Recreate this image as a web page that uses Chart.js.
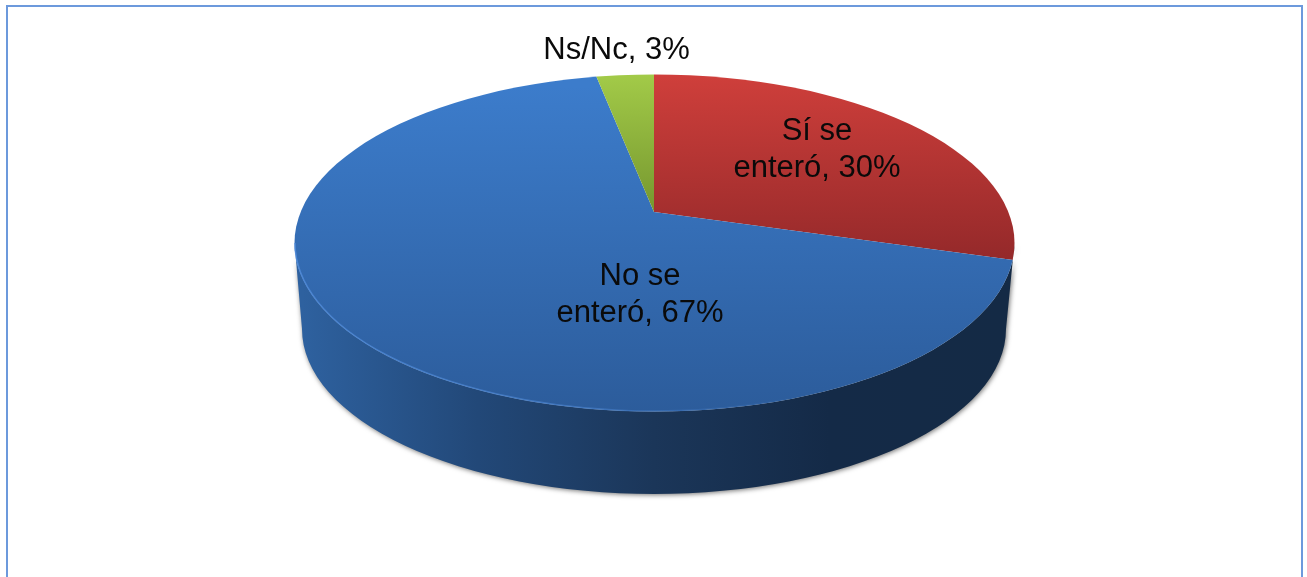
<!DOCTYPE html>
<html>
<head>
<meta charset="utf-8">
<script src="https://cdn.jsdelivr.net/npm/chart.js@4"></script>
<style>
  html, body { margin: 0; padding: 0; background: #fff; overflow: hidden; }
  #wrap { position: relative; width: 1307px; height: 577px; overflow: hidden; }
  #frame { position: absolute; left: 6px; top: 5px; width: 1297px; height: 600px; border: 2px solid #6c99dc; box-sizing: border-box; }
  canvas { position: absolute; left: 0; top: 0; }
</style>
</head>
<body>
<div id="wrap">
  <div id="frame"></div>
  <canvas id="pie" width="1307" height="577"></canvas>
</div>
<script>
const categories = [['Sí se', 'enteró'], ['No se', 'enteró'], ['Ns/Nc']];
const values = [30, 67, 3];

// top face: flattened disc whose apex sits above the centre of its outline, as in the perspective original
const FACE = { cx: 654.5, cy: 243, rx: 360, ry: 168.5 };
const BASE = { cx: 654, cy: 329, rx: 352, ry: 165 };
const APEX = { x: 654, y: 212 };
const FLAT = 0.451;
const SHEAR = -0.013;
const LABEL_POS = [[817, 140], [640, 285], [616.5, 59]];

function ellipsePath(ctx) {
  ctx.beginPath();
  ctx.ellipse(FACE.cx, FACE.cy, FACE.rx, FACE.ry, 0, 0, Math.PI * 2);
}

// maps a page y to the y the arcs use before they get flattened
function faceGradient(chart, top, bottom, c0, c1) {
  const arcY = (chart.chartArea.top + chart.chartArea.bottom) / 2;
  const arcX = (chart.chartArea.left + chart.chartArea.right) / 2;
  const g = chart.ctx.createLinearGradient(arcX, arcY + (top - APEX.y) / FLAT, arcX, arcY + (bottom - APEX.y) / FLAT);
  g.addColorStop(0, c0);
  g.addColorStop(1, c1);
  return g;
}

function sliceFill(c) {
  if (!c.chart.chartArea) return '#888';
  if (c.dataIndex === 0) return faceGradient(c.chart, 75, 262, '#cf3f3b', '#95292a');
  if (c.dataIndex === 1) return faceGradient(c.chart, 85, 412, '#3c7ccb', '#2c5c9b');
  return faceGradient(c.chart, 75, 212, '#a2ca48', '#76972f');
}

const disc3d = {
  id: 'disc3d',
  beforeDatasetsDraw(chart) {
    const ctx = chart.ctx;
    const arc = chart.getDatasetMeta(0).data[0];

    // side wall
    ctx.save();
    ctx.beginPath();
    ctx.moveTo(FACE.cx + FACE.rx, FACE.cy);
    ctx.ellipse(FACE.cx, FACE.cy, FACE.rx, FACE.ry, 0, 0, Math.PI);
    ctx.lineTo(BASE.cx - BASE.rx, BASE.cy);
    ctx.ellipse(BASE.cx, BASE.cy, BASE.rx, BASE.ry, 0, Math.PI, 0, true);
    ctx.closePath();
    const wall = ctx.createLinearGradient(BASE.cx - BASE.rx, 0, BASE.cx + BASE.rx, 0);
    wall.addColorStop(0, '#2e619f');
    wall.addColorStop(0.25, '#224878');
    wall.addColorStop(0.5, '#1b3659');
    wall.addColorStop(0.75, '#142a47');
    wall.addColorStop(1, '#142a45');
    ctx.fillStyle = wall;
    ctx.shadowColor = 'rgba(0,0,0,0.55)';
    ctx.shadowBlur = 5;
    ctx.shadowOffsetX = 1;
    ctx.shadowOffsetY = 1;
    ctx.fill();
    ctx.restore();

    // face: oversized pie, flattened and cut to the outline
    ctx.save();
    ellipsePath(ctx);
    ctx.clip();
    ctx.translate(APEX.x, APEX.y);
    ctx.transform(1, SHEAR, 0, FLAT, 0, 0);
    ctx.translate(-arc.x, -arc.y);
  },
  afterDatasetsDraw(chart) {
    const ctx = chart.ctx;
    ctx.restore();

    // thin light rim along the front edge
    const rim = ctx.createLinearGradient(FACE.cx - FACE.rx, 0, FACE.cx + FACE.rx, 0);
    rim.addColorStop(0, 'rgba(80,140,220,0.8)');
    rim.addColorStop(0.4, 'rgba(80,140,220,0.5)');
    rim.addColorStop(0.7, 'rgba(80,140,220,0)');
    rim.addColorStop(1, 'rgba(80,140,220,0)');
    ctx.save();
    ctx.beginPath();
    ctx.ellipse(FACE.cx, FACE.cy, FACE.rx - 0.5, FACE.ry - 0.5, 0, 0.1, Math.PI);
    ctx.strokeStyle = rim;
    ctx.lineWidth = 1.5;
    ctx.stroke();
    ctx.restore();
  },
  afterDraw(chart) {
    const ctx = chart.ctx;
    ctx.save();
    ctx.font = '31px "Liberation Sans", Arial, sans-serif';
    ctx.fillStyle = '#0a0a0a';
    ctx.textAlign = 'center';
    ctx.textBaseline = 'alphabetic';
    categories.forEach((lines, i) => {
      const [x, y] = LABEL_POS[i];
      lines.forEach((line, j) => {
        const last = j === lines.length - 1;
        ctx.fillText(last ? line + ', ' + values[i] + '%' : line, x, y + j * 37);
      });
    });
    ctx.restore();
  }
};

new Chart(document.getElementById('pie').getContext('2d'), {
  type: 'pie',
  data: {
    labels: categories.map(l => l.join(' ')),
    datasets: [{
      data: values,
      backgroundColor: sliceFill,
      borderWidth: 0,
      clip: false
    }]
  },
  options: {
    responsive: false,
    animation: false,
    events: [],
    radius: 800,
    layout: { padding: 0 },
    plugins: { legend: { display: false }, tooltip: { enabled: false } }
  },
  plugins: [disc3d]
});
</script>
</body>
</html>
